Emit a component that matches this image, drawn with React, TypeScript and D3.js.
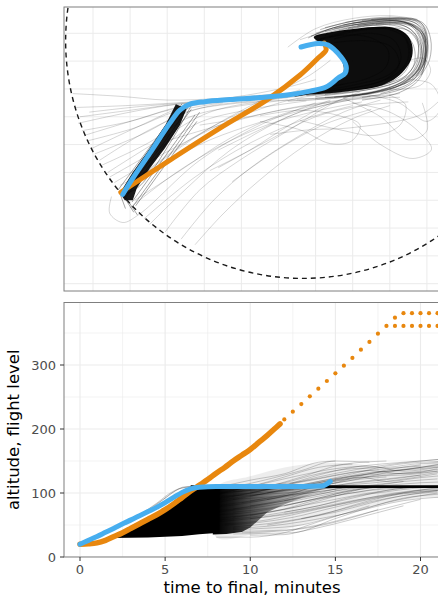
import React from "react";
import * as d3 from "d3";

type Pt = [number, number];

// ---------- plan view (km east / north of the grid origin) ----------
const planEastGrid = [-24, -20, -16, -12, -8, -4, 0, 4, 8, 12];
const planNorthGrid = [0, -3, -6, -9, -12, -15, -18, -21, -24, -27];
const ringCentre: Pt = [-1.35, -0.83];
const ringRadiusKm = 25.6;

// dense holding / sequencing area
const holdingCore: Pt[] = [
  [-0.2, -0.4], [1.6, 0.1], [4.3, 0.5], [7.0, 0.7], [8.8, 0.5], [9.9, -0.2],
  [10.4, -1.2], [10.4, -2.5], [9.8, -3.7], [8.7, -4.8], [7.2, -5.6], [4.8, -6.1],
  [2.1, -6.4], [-0.6, -6.6], [-2.3, -6.8], [-0.6, -6.1], [1.6, -5.5], [3.0, -4.2],
  [2.7, -2.7], [1.4, -1.4], [0.3, -0.9],
];

// dense bundle on the final turn
const finalCore: Pt[] = [
  [-15.07, -7.64], [-13.9, -8.1], [-14.63, -9.9], [-16.25, -12.39], [-17.87, -14.55],
  [-19.28, -16.71], [-19.71, -18.0], [-20.57, -18.0], [-21.11, -17.25], [-19.71, -14.98],
  [-17.87, -12.39], [-16.15, -9.8],
];

const planTracks: Pt[][] = [
  [[-25.4, -9.0], [-20.0, -8.3], [-14.6, -7.6], [-8.2, -7.2], [-1.7, -6.5], [3.0, -5.5]],
  [[-24.4, -8.5], [-19.0, -7.9], [-14.1, -7.5], [-8.0, -7.0], [-2.8, -6.6]],
  [[-25.6, -9.7], [-20.0, -8.5], [-15.2, -7.7], [-9.0, -7.3], [-3.0, -6.8]],
  [[-24.9, -11.0], [-19.0, -9.2], [-14.6, -7.9], [-9.2, -7.2], [-3.0, -6.9]],
  [[-24.1, -12.4], [-19.0, -10.0], [-13.6, -7.7], [-8.0, -7.1], [-2.0, -6.7]],
  [[-23.3, -13.7], [-17.9, -10.4], [-12.5, -8.1], [-6.0, -7.2], [-1.0, -6.6]],
  [[-22.4, -15.0], [-16.8, -11.5], [-11.4, -8.5], [-4.9, -7.2], [0, -6.6]],
  [[-21.7, -16.1], [-15.7, -12.6], [-9.2, -9.4], [-2.8, -7.2], [2, -6.4]],
  [[-26.2, -6.5], [-21, -6.8], [-16, -7.2], [-10, -7.0], [-4, -6.5]],
  [[-25.9, -8.0], [-20.5, -7.8], [-15, -7.5], [-9, -7.1]],
  [[-25.2, -10.5], [-20, -9.5], [-15.5, -8.2], [-10, -7.4], [-5, -7.0]],
  [[-24.6, -11.6], [-19.5, -10.2], [-15, -8.4], [-10, -7.5]],
  [[-23.8, -13.0], [-18.5, -10.8], [-14, -8.5], [-9, -7.6], [-3, -7.2]],
  [[-23.0, -14.2], [-18, -11.8], [-13.5, -9], [-8, -7.8], [-2, -7.1]],
  [[-22.2, -15.5], [-17, -12.5], [-12.5, -9.6], [-7, -8.2], [-1, -7.3]],
  [[-16.2, -21.4], [-12.5, -16.9], [-8.2, -13.7], [-2.8, -10.4], [1.6, -7.7], [4.8, -6.3]],
  [[-17.9, -20.6], [-14.1, -16.9], [-9.2, -12.6], [-3.8, -9.4], [1.6, -7.2]],
  [[-20.0, -18.8], [-15, -15], [-10, -12], [-5, -9.8], [0, -8.4], [5, -7.4]],
  [[-18.5, -20.0], [-13, -15.5], [-7, -11.8], [-1, -9.2], [4, -7.8]],
  [[-14.5, -22.2], [-11, -18], [-7, -14.5], [-2, -11.2], [3, -8.5], [7, -7.2]],
  [[-13, -22.8], [-10, -19.5], [-6, -15.8], [-1, -12], [4, -9.2], [8, -7.8]],
  [[-22.0, -17.6], [-22.2, -19.4], [-20.8, -20.4], [-19.0, -19.5], [-12.5, -13.7], [-6.0, -9.9], [0, -7.5]],
  [[-11.4, -14.8], [-7.1, -12.6], [-2.8, -9.9], [2.6, -7.2], [7.0, -6.7]],
  [[-10.5, -12.6], [-6.0, -10.4], [-1.7, -8.5], [3.7, -7.2], [9.1, -6.9]],
  [[-1.7, -9.4], [2.6, -10.4], [6.4, -11.0], [9.1, -9.9], [9.7, -7.7], [8.0, -6.7]],
  [[-6.0, -8.9], [-1.7, -8.3], [2.6, -8.9], [4.8, -9.9], [3.9, -11.6], [1.6, -11.9], [-1.7, -10.4], [-6, -9.5]],
  [[-4.9, -10.9], [-0.6, -10.4], [3.7, -10.2], [11.3, -8.8], [13.4, -7.2]],
  [[8.0, -6.1], [11.3, -5.6], [12.4, -4.0], [11.6, -2.7], [10.2, -2.9]],
  [[3.2, 1.2], [5.9, 1.4], [9.7, 1.2], [11.3, 0.4], [11.8, -1.8], [11.1, -4.0]],
  [[-1.7, -0.7], [2.6, 0.6], [7.0, 1.2], [10.2, 1.0], [11.6, -0.7], [11.5, -3.4], [9.1, -5.6]],
  [[-12.5, -9.9], [-8.2, -9.2], [-3.8, -8.3], [0.5, -7.6], [4.8, -7.0], [9.1, -6.5]],
  [[-15.7, -11.5], [-10.3, -9.9], [-4.9, -8.5], [0.5, -7.5], [5.9, -6.8]],
  [[-21.1, -16.4], [-16.8, -14.2], [-11.4, -11.5], [-6.0, -9.6], [-0.6, -8.1], [3.7, -7.2]],
  [[-19.5, -18.0], [-14.6, -14.8], [-9.2, -11.3], [-3.8, -8.8], [1.6, -7.4]],
  [[-21.0, -17.0], [-12.5, -10.9], [-4.9, -6.7], [-0.6, -4.5], [1.6, -2.9]],
  [[-21.0, -17.0], [-13.6, -11.5], [-7.1, -8.1], [-1.7, -6.1]],
  [[5, -6.5], [9, -7.5], [12, -9.5], [13.5, -8], [12.5, -5.5], [10, -5]],
  [[3, -7], [7, -9], [10, -11.5], [12, -10.5], [11.5, -7.5]],
  [[4, -7.5], [8, -8.5], [11, -10.5], [12.5, -12.5], [10.5, -13.5], [7, -12], [4, -9.5]],
  [[-10.5, -14.5], [-5, -11.5], [0, -9], [5, -7.8], [10, -7.4]],
  [[-9, -16], [-4, -12.5], [1, -9.8], [6, -8.2]],
  [[-12, -7.3], [-7, -6.6], [-3, -5.8], [0, -5]],
  [[-3, -1.5], [0, 0.5], [4, 1.6], [8, 1.9], [11, 1.5]],
];

const planHairpins: Pt[][] = [
  [[-0.5, -0.3], [3, 0.9], [7, 1.3], [9.8, 1.1], [11.2, -0.4], [11.3, -2.8], [10.2, -4.6], [7.5, -6.0], [3, -6.8], [-2, -7.1]],
  [[0, 0], [4, 1.1], [8, 1.4], [10.5, 0.8], [11.6, -1.5], [11.1, -3.8], [9, -5.6], [5, -6.6], [0, -7.0]],
  [[1, -0.2], [5, 0.9], [9, 1.0], [10.8, -0.2], [11.0, -2.5], [9.8, -4.5], [7, -5.6], [2, -6.4]],
  [[0.5, 0.4], [4.5, 1.4], [8.5, 1.5], [10.9, 1.0], [11.9, -1.0], [11.6, -3.5], [10.0, -5.2], [6, -6.4], [1, -6.9]],
  [[2, 0.5], [6, 1.2], [9.5, 1.2], [11.4, 0.0], [11.8, -2.2], [10.8, -4.3], [8.5, -5.9], [4, -6.8]],
  [[0.5, -0.6], [4, 0.3], [7.5, 0.5], [9.6, -0.5], [10.0, -2.6], [8.8, -4.3], [6, -5.5], [1.5, -6.2]],
  [[3, 0.9], [7, 1.5], [10, 1.4], [11.5, 0.5], [11.9, -1.5], [11.6, -3.3], [10.4, -4.8]],
  [[1, 0.2], [5.5, 1.1], [9.5, 1.3], [11.4, 0.3], [11.9, -2.0], [11.3, -4.5], [9.3, -6.0], [5, -6.9]],
  [[2, -0.6], [6, 0.0], [8.5, -0.8], [9.2, -2.8], [8, -4.4], [4.5, -5.5], [0.5, -6.2]],
  [[4, 1.1], [8, 1.5], [10.8, 1.3], [11.9, 0.0], [11.9, -2.5], [11.2, -4.9], [9, -6.4], [5, -7.2]],
  [[5, 1.4], [8.5, 1.6], [10.8, 1.5], [11.7, 0.6], [11.9, -1.0]],
  [[0, -0.8], [3, -0.2], [6, -0.5], [7.8, -1.8], [7.6, -3.6], [5.5, -4.9], [1.5, -5.7]],
  [[-0.8, -0.5], [2, 0.6], [6, 1.0], [9.6, 0.5], [11.0, -1.0], [10.9, -3.3], [9.4, -5.2], [6.5, -6.3], [2, -7.0], [-3, -7.3]],
  [[6, 1.5], [9.5, 1.6], [11.5, 1.0], [12.1, -0.8], [11.8, -3.0], [10.8, -4.6]],
  [[3, 0.2], [7, 0.6], [10.2, 0.2], [11.3, -1.6], [10.8, -3.8], [8.7, -5.3], [5, -6.2], [0, -6.8]],
  [[2.5, 0.2], [6.5, 0.9], [9.8, 0.7], [11.2, -0.8], [11.4, -3.0], [10, -4.9], [7, -6.1], [2, -6.9]],
  [[1.5, -0.4], [5.5, 0.4], [9, 0.3], [10.5, -1.2], [10.6, -3.4], [9.2, -5.0], [6, -6.0], [1, -6.6]],
  [[3.5, 0.5], [7.5, 1.1], [10.5, 0.9], [11.9, -0.5], [12.0, -2.8], [11, -4.6], [8, -6.0], [3, -6.9]],
  [[0, -0.3], [3.5, 0.6], [7, 0.8], [9.2, 0.1], [10.2, -1.8], [9.8, -3.9], [8, -5.3], [4, -6.2], [-1, -6.7]],
  [[4.5, 0.8], [8, 1.2], [10.9, 0.6], [11.8, -1.2], [11.5, -3.6], [10.1, -5.4], [7, -6.5]],
  [[1, 0.6], [5, 1.5], [9, 1.7], [11.6, 1.1], [12.4, -0.6], [12.3, -2.8], [11.4, -4.5]],
  [[6.5, 1.0], [9.5, 1.0], [11.3, 0.1], [11.6, -2.0], [11.0, -4.0], [9.5, -5.5]],
  [[2, -1.0], [5.5, -0.8], [8.2, -1.5], [9.0, -3.3], [7.8, -4.8], [4.5, -5.8], [0, -6.4]],
];

const finalFan: Pt[][] = [
  [[-13.8, -7.7], [-20.9, -17.3]],
  [[-13.4, -8.2], [-20.4, -17.6]],
  [[-13.0, -8.8], [-19.8, -18.2]],
  [[-14.4, -7.6], [-21.3, -16.9]],
  [[-12.8, -9.5], [-19.4, -18.6]],
  [[-13.5, -7.6], [-16.5, -12], [-20.6, -17.2]],
  [[-12.5, -8.5], [-16, -13.5], [-19.8, -18.8]],
  [[-13.2, -7.4], [-15.5, -11.5], [-19.0, -16.5], [-20.7, -17.4]],
  [[-21.0, -17.1], [-19.6, -19.3]],
  [[-20.8, -17.2], [-19.2, -19.6]],
  [[-21.2, -17.0], [-20.5, -18.9]],
];

const planOrange: Pt[] = [
  [-21.0, -17.14], [-15.71, -13.68], [-10.31, -10.23], [-5.13, -7.1],
  [-1.67, -4.5], [0.27, -2.67], [1.13, -1.8], [0.92, -1.05],
];

const planBlue: Pt[] = [
  [-1.57, -1.48], [0.27, -1.1], [1.35, -1.26], [2.75, -2.56], [3.29, -3.53], [3.19, -4.29],
  [2.43, -4.83], [1.13, -5.8], [-0.59, -6.23], [-3.08, -6.66], [-5.99, -6.93], [-9.23, -7.15],
  [-11.93, -7.37], [-13.55, -7.64], [-14.63, -8.28], [-15.71, -9.69], [-17.87, -12.93],
  [-19.49, -15.3], [-20.79, -17.36],
];

// ---------- vertical profile (minutes to final, flight level) ----------
const timeTicks = [0, 5, 10, 15, 20];
const timeMinor = [2.5, 7.5, 12.5, 17.5];
const altTicks = [0, 100, 200, 300];
const altMinor = [50, 150, 250, 350];

const profileCore: Pt[] = [
  [0.3, 20.5], [1, 22], [2, 32], [3, 45], [4, 59], [5, 74], [6, 93], [6.6, 105], [7.5, 108],
  [8.2, 108], [8.2, 38], [7, 35.5], [6, 33], [4, 30.5], [1.8, 29.5], [1.2, 26], [0.6, 22],
];

// band where most descents are still bunched; fades with time to final
const profileDense: Pt[] = [
  [7.8, 108], [10, 109], [12.5, 110], [14.5, 111], [14, 102], [13, 92], [12, 82],
  [11, 70], [10.5, 58], [10, 46], [9.5, 39], [8.6, 36], [7.8, 35],
];
const denseFade: [number, number][] = [
  [8, 1], [9, 0.88], [10, 0.68], [11.5, 0.42], [13, 0.22], [14.5, 0.05],
];

// outer envelope of the spread of descents
const profileHaze: Pt[] = [
  [8, 108], [10, 126], [12, 140], [14, 147], [16, 146], [18, 140], [20, 145], [22.5, 150],
  [22.5, 100], [20, 92], [18, 84], [16, 73], [14, 58], [12, 43], [10, 34], [8, 31],
];

const profileTracks: Pt[][] = [
  [[2.5, 50], [3.5, 66], [4.5, 84], [5.3, 100], [6, 108], [7, 110]],
  [[3, 58], [4, 74], [5, 92], [5.8, 106], [6.5, 110]],
  [[4, 72], [4.8, 88], [5.5, 102], [6.2, 110], [7.5, 111]],
  [[7, 100], [10, 115], [13, 135], [15, 150], [17, 148]],
  [[7, 95], [10, 110], [12, 125], [14, 140], [16, 145]],
  [[8, 90], [11, 105], [14, 125], [17, 140], [20, 150], [22.5, 155]],
  [[8, 85], [11, 100], [14, 118], [17, 130], [20, 140], [22.5, 145]],
  [[8, 80], [11, 92], [14, 110], [16, 120], [18, 125]],
  [[8, 70], [11, 80], [14, 95], [17, 110], [19, 118]],
  [[8, 60], [11, 70], [14, 85], [17, 100], [20, 110], [22.5, 112]],
  [[8, 55], [10, 60], [13, 72], [16, 88], [19, 100], [22.5, 105]],
  [[9, 45], [11, 48], [13, 55], [16, 70], [19, 88], [22.5, 95]],
  [[9, 40], [12, 42], [14, 50], [17, 70], [20, 90]],
  [[8, 31], [10, 31], [12, 38], [14, 55], [17, 80]],
  [[9, 36], [12.5, 38], [15, 60], [18, 85], [21, 100]],
  [[8, 100], [11, 110], [13, 125], [15.5, 145], [18, 150]],
  [[7.5, 105], [10, 120], [12, 130], [14, 148], [15, 150]],
  [[10, 95], [12, 105], [14, 112], [16, 120], [18, 132], [20, 140], [22.5, 152]],
  [[10, 88], [13, 100], [15, 110], [18, 118], [21, 130]],
  [[12, 80], [14, 92], [16, 104], [18, 110]],
  [[9, 75], [12, 90], [14, 105], [16, 110], [22.5, 110]],
  [[10, 65], [13, 80], [15, 95], [17, 108], [19, 110], [22.5, 110]],
  [[11, 50], [14, 65], [17, 88], [19, 100], [21, 108], [22.5, 110]],
  [[8, 105], [11, 112], [13, 118], [15, 128], [17, 135], [19, 130], [21, 138]],
  [[12, 108], [14, 118], [16, 130], [18, 142], [20, 148], [22.5, 150]],
  [[8, 95], [12, 100], [15, 108], [17, 110]],
  [[9, 98], [12, 104], [14, 110]],
  [[10, 80], [13, 92], [15, 103], [17, 110]],
  [[9, 90], [12, 96], [14, 102], [16, 110]],
  [[9.5, 85], [12, 95], [13.5, 108], [15, 116], [16.5, 125], [18, 118], [20, 124], [22.5, 130]],
  [[8.5, 50], [10.5, 54], [12.5, 62], [15, 78], [18, 95], [21, 104]],
  [[9, 62], [12, 75], [14, 90], [16, 100], [18, 108], [20, 110]],
  [[10, 100], [12, 112], [14, 128], [16, 140], [18, 146], [20, 150], [22.5, 156]],
  [[8, 102], [10, 108], [12, 116], [14, 130], [16, 138], [18, 140], [20, 146], [22.5, 148]],
  [[8, 92], [10, 100], [12, 112], [14, 122], [16, 132], [18, 138], [20, 142]],
  [[8, 88], [10, 96], [12, 104], [14, 114], [16, 122], [18, 128], [20, 134], [22.5, 140]],
  [[8, 78], [10, 85], [12, 95], [14, 106], [16, 116], [18, 122], [20, 128]],
  [[8, 72], [10, 78], [12, 88], [14, 100], [16, 110], [22.5, 110]],
  [[8, 66], [10, 70], [12, 80], [14, 92], [16, 104], [18, 110], [22.5, 110]],
  [[8, 58], [10, 62], [12, 70], [14, 80], [16, 92], [18, 104], [20, 110]],
  [[8.5, 52], [10.5, 56], [12.5, 66], [14.5, 78], [16.5, 90], [18.5, 100], [20.5, 106], [22.5, 108]],
  [[9, 47], [11, 52], [13, 60], [15, 70], [17, 84], [19, 96], [21, 102]],
  [[9, 43], [11, 45], [13, 50], [15, 64], [17, 78], [19, 92], [21, 98], [22.5, 100]],
  [[9.5, 38], [11.5, 40], [13.5, 46], [15.5, 58], [17.5, 74]],
  [[10, 34], [12, 35], [13, 40], [15, 52], [17, 66], [19, 80]],
  [[8, 98], [10, 104], [12, 108], [14, 116], [16, 126], [18, 134], [20, 138], [22.5, 144]],
  [[9, 102], [11, 106], [13, 112], [15, 120], [17, 126], [19, 128], [21, 134]],
  [[10, 102], [12, 108], [14, 114], [16, 124], [18, 136], [20, 144]],
  [[11, 100], [13, 106], [15, 112], [17, 118], [19, 124], [21, 132], [22.5, 136]],
  [[11, 90], [13, 98], [15, 106], [17, 112], [19, 118], [21, 122]],
  [[12, 88], [14, 98], [16, 108], [18, 112], [20, 116], [22.5, 118]],
  [[12, 70], [14, 80], [16, 94], [18, 102], [20, 108], [22.5, 110]],
  [[13, 60], [15, 72], [17, 86], [19, 96], [21, 104], [22.5, 108]],
  [[13, 110], [15, 122], [17, 132], [19, 136], [21, 144], [22.5, 148]],
  [[14, 112], [16, 126], [18, 130], [20, 132], [22.5, 138]],
  [[9, 70], [11, 76], [13, 86], [15, 96], [17, 104], [19, 108], [21, 110]],
  [[10, 60], [12, 66], [14, 76], [16, 86], [18, 96], [20, 104], [22.5, 106]],
  [[7, 90], [9, 104], [11, 116], [13, 128], [15, 138], [17, 142], [19, 134], [21, 140], [22.5, 146]],
];

const levelFL110: Pt[] = [[6.5, 110], [23, 110]];

const profileOrange: Pt[] = [
  [0, 20], [0.5, 20.5], [1, 22], [1.5, 26], [2, 32], [2.5, 38], [3, 45], [3.5, 52], [4, 59],
  [4.5, 66], [5, 74], [5.5, 83], [6, 93], [6.5, 103], [7, 112], [7.5, 121], [8, 131],
  [8.5, 140], [9, 150], [9.5, 159], [10, 168], [10.5, 179], [11, 190], [11.5, 202], [11.75, 208],
];

const orangeDots: Pt[] = [
  [12.0, 215], [12.5, 227], [13.0, 239], [13.5, 251], [14.0, 263], [14.5, 275], [15.0, 287],
  [15.5, 299], [16.0, 311], [16.5, 324], [17.0, 336], [17.5, 349], [18.0, 361],
  [18.5, 374], [19.0, 381], [19.5, 381], [20.0, 381], [20.5, 381], [21.0, 381], [21.5, 381], [22.0, 381],
  [18.5, 361], [19.0, 361], [19.5, 361], [20.0, 361], [20.5, 361], [21.0, 361], [21.5, 361], [22.0, 361],
];

const profileBlue: Pt[] = [
  [0, 20], [0.5, 26], [1, 32], [1.5, 38.5], [2, 45], [2.6, 53], [3, 58], [3.5, 64.5], [4, 71],
  [4.5, 77.5], [5, 85], [5.5, 93], [6, 101], [6.5, 106.5], [7, 109], [8, 110], [10, 110],
  [12, 110], [14.2, 111], [14.7, 118],
];

// ---------- layout ----------
const W = 438;
const H = 599;
const plan = { left: 64, top: 7, right: 441, bottom: 291 };
const prof = { left: 64, top: 302.5, right: 441, bottom: 557 };
const ORANGE = "#E8870E";
const BLUE = "#47AEEF";
const GRID = "#ebebeb";
const FONT = "DejaVu Sans, sans-serif";

export default function App() {
  const xE = d3.scaleLinear().domain([-24, 12]).range([93, 426.9]);
  const yN = d3.scaleLinear().domain([0, -27]).range([33.3, 283.7]);
  const xT = d3.scaleLinear().domain([0, 20]).range([80, 420.5]);
  const yA = d3.scaleLinear().domain([0, 300]).range([557, 365]);

  const planLine = d3
    .line<Pt>()
    .x((d) => xE(d[0]))
    .y((d) => yN(d[1]))
    .curve(d3.curveCatmullRom.alpha(0.5));
  const planStraight = d3
    .line<Pt>()
    .x((d) => xE(d[0]))
    .y((d) => yN(d[1]));
  const planArea = d3
    .line<Pt>()
    .x((d) => xE(d[0]))
    .y((d) => yN(d[1]))
    .curve(d3.curveCatmullRomClosed.alpha(0.5));
  const profLine = d3
    .line<Pt>()
    .x((d) => xT(d[0]))
    .y((d) => yA(d[1]))
    .curve(d3.curveMonotoneX);
  const profArea = d3
    .line<Pt>()
    .x((d) => xT(d[0]))
    .y((d) => yA(d[1]))
    .curve(d3.curveCatmullRomClosed.alpha(0.5));
  const profPoly = d3
    .line<Pt>()
    .x((d) => xT(d[0]))
    .y((d) => yA(d[1]))
    .curve(d3.curveLinearClosed);

  const ringRx = xE(ringRadiusKm) - xE(0);
  const ringRy = yN(-ringRadiusKm) - yN(0);
  const fadeStart = denseFade[0][0];
  const fadeEnd = denseFade[denseFade.length - 1][0];

  return (
    <svg
      width={W}
      height={H}
      style={{ position: "absolute", left: 0, top: 0, background: "#fff" }}
      fontFamily={FONT}
    >
      <defs>
        <clipPath id="planClip">
          <rect x={plan.left} y={plan.top} width={plan.right - plan.left} height={plan.bottom - plan.top} />
        </clipPath>
        <clipPath id="profClip">
          <rect x={prof.left} y={prof.top} width={prof.right - prof.left} height={prof.bottom - prof.top} />
        </clipPath>
        <linearGradient id="denseFade" gradientUnits="userSpaceOnUse" x1={xT(fadeStart)} x2={xT(fadeEnd)} y1={0} y2={0}>
          {denseFade.map(([t, o]) => (
            <stop
              key={"s" + t}
              offset={(t - fadeStart) / (fadeEnd - fadeStart)}
              stopColor="#000"
              stopOpacity={o}
            />
          ))}
        </linearGradient>
      </defs>
      <rect x={0} y={0} width={W} height={H} fill="#fff" />

      {/* plan view */}
      <g clipPath="url(#planClip)">
        {planEastGrid.map((e) => (
          <line key={"pe" + e} x1={xE(e)} x2={xE(e)} y1={plan.top} y2={plan.bottom} stroke={GRID} strokeWidth={1} />
        ))}
        {planNorthGrid.map((n) => (
          <line key={"pn" + n} x1={plan.left} x2={plan.right} y1={yN(n)} y2={yN(n)} stroke={GRID} strokeWidth={1} />
        ))}
        <path d={planArea(holdingCore) || ""} fill="#000" fillOpacity={0.95} />
        <path d={planStraight(finalCore) + "Z"} fill="#000" fillOpacity={0.9} />
        {planTracks.map((t, i) => (
          <path key={"pt" + i} d={planLine(t) || ""} fill="none" stroke="#000" strokeOpacity={0.16} strokeWidth={1} />
        ))}
        {planHairpins.map((t, i) => (
          <path key={"ph" + i} d={planLine(t) || ""} fill="none" stroke="#000" strokeOpacity={0.3} strokeWidth={1} />
        ))}
        {finalFan.map((t, i) => (
          <path key={"pf" + i} d={planLine(t) || ""} fill="none" stroke="#000" strokeOpacity={0.35} strokeWidth={1} />
        ))}
        <ellipse
          cx={xE(ringCentre[0])}
          cy={yN(ringCentre[1])}
          rx={ringRx}
          ry={ringRy}
          fill="none"
          stroke="#1a1a1a"
          strokeWidth={1.4}
          strokeDasharray="5 4"
        />
        <path d={planLine(planOrange) || ""} fill="none" stroke={ORANGE} strokeWidth={5} strokeLinecap="round" strokeLinejoin="round" />
        <path d={planLine(planBlue) || ""} fill="none" stroke={BLUE} strokeWidth={5} strokeLinecap="round" strokeLinejoin="round" />
      </g>
      <rect
        x={plan.left}
        y={plan.top}
        width={plan.right - plan.left}
        height={plan.bottom - plan.top}
        fill="none"
        stroke="#7f7f7f"
        strokeWidth={1}
      />

      {/* vertical profile */}
      <g clipPath="url(#profClip)">
        {timeMinor.map((t) => (
          <line key={"tm" + t} x1={xT(t)} x2={xT(t)} y1={prof.top} y2={prof.bottom} stroke={GRID} strokeWidth={0.6} />
        ))}
        {timeTicks.map((t) => (
          <line key={"tM" + t} x1={xT(t)} x2={xT(t)} y1={prof.top} y2={prof.bottom} stroke={GRID} strokeWidth={1.1} />
        ))}
        {altMinor.map((a) => (
          <line key={"am" + a} x1={prof.left} x2={prof.right} y1={yA(a)} y2={yA(a)} stroke={GRID} strokeWidth={0.6} />
        ))}
        {altTicks.map((a) => (
          <line key={"aM" + a} x1={prof.left} x2={prof.right} y1={yA(a)} y2={yA(a)} stroke={GRID} strokeWidth={1.1} />
        ))}
        <path d={profArea(profileHaze) || ""} fill="#000" fillOpacity={0.07} />
        <path d={profPoly(profileDense) || ""} fill="url(#denseFade)" />
        <path d={profPoly(profileCore) || ""} fill="#000" />
        {profileTracks.map((t, i) => (
          <path key={"bt" + i} d={profLine(t) || ""} fill="none" stroke="#000" strokeOpacity={0.2} strokeWidth={1} />
        ))}
        <path d={profLine(levelFL110) || ""} fill="none" stroke="#000" strokeWidth={2.6} />
        <path d={profLine(profileOrange) || ""} fill="none" stroke={ORANGE} strokeWidth={5.5} strokeLinecap="round" strokeLinejoin="round" />
        {orangeDots.map((d, i) => (
          <circle key={"od" + i} cx={xT(d[0])} cy={yA(d[1])} r={2.1} fill={ORANGE} />
        ))}
        <path d={profLine(profileBlue) || ""} fill="none" stroke={BLUE} strokeWidth={5} strokeLinecap="round" strokeLinejoin="round" />
      </g>
      <rect
        x={prof.left}
        y={prof.top}
        width={prof.right - prof.left}
        height={prof.bottom - prof.top}
        fill="none"
        stroke="#7f7f7f"
        strokeWidth={1}
      />

      {/* axes */}
      {timeTicks.map((t) => (
        <g key={"xt" + t}>
          <line x1={xT(t)} x2={xT(t)} y1={prof.bottom} y2={prof.bottom + 4} stroke="#333" strokeWidth={1} />
          <text x={xT(t)} y={573.5} textAnchor="middle" fontSize={13} fill="#4d4d4d">
            {t}
          </text>
        </g>
      ))}
      {altTicks.map((a) => (
        <g key={"yt" + a}>
          <line x1={prof.left - 4} x2={prof.left} y1={yA(a)} y2={yA(a)} stroke="#333" strokeWidth={1} />
          <text x={56} y={yA(a) + 4.7} textAnchor="end" fontSize={13} fill="#4d4d4d">
            {a}
          </text>
        </g>
      ))}
      <text x={252} y={593} textAnchor="middle" fontSize={16.5} fill="#000">
        time to final, minutes
      </text>
      <text
        transform={`translate(19, ${(prof.top + prof.bottom) / 2}) rotate(-90)`}
        textAnchor="middle"
        fontSize={16.5}
        fill="#000"
      >
        altitude, flight level
      </text>
    </svg>
  );
}
